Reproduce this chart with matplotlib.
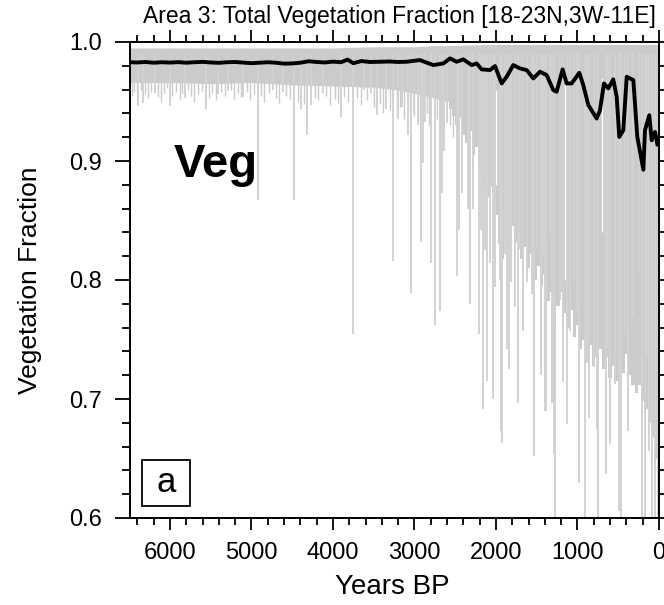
import matplotlib
matplotlib.use('Agg')
import matplotlib.pyplot as plt
from matplotlib.ticker import MultipleLocator
from matplotlib.patches import Rectangle

plt.rcParams['font.family'] = ['Liberation Sans', 'DejaVu Sans']

# ---------------- data ----------------
smooth_years = [6490, 6400, 6300, 6200, 6100, 6000, 5900, 5800, 5700, 5600, 5500, 5400, 5300,
                5200, 5100, 5000, 4900, 4800, 4700, 4600, 4500, 4400, 4300, 4200, 4100, 4000,
                3900, 3820, 3750, 3650, 3550, 3423, 3300, 3200, 3096, 2933, 2769, 2646, 2564,
                2482, 2401, 2298, 2237, 2176, 2074, 2012, 1930, 1869, 1788, 1706, 1623, 1542,
                1460, 1378, 1297, 1256, 1182, 1133, 1072, 978, 929, 867, 765, 724, 675, 622,
                561, 519, 487, 438, 396, 315, 266, 192, 172, 119, 90, 49, 20]
smooth_vals = [.9830, .9828, .9832, .9826, .9830, .9827, .9831, .9826, .9830, .9833, .9828,
               .9825, .9830, .9832, .9827, .9822, .9826, .9830, .9826, .9818, .9820, .9826,
               .9838, .9832, .9828, .9835, .9830, .9852, .9822, .9840, .9832, .9834, .9836,
               .9832, .9834, .9848, .9806, .9820, .9862, .9834, .9854, .9806, .9820, .9770,
               .9764, .9798, .9652, .9708, .9806, .9778, .9764, .9694, .9750, .9722, .9596,
               .9582, .9770, .9652, .9652, .9741, .9638, .9470, .9357, .9427, .9652, .9610,
               .9686, .9539, .9202, .9259, .9708, .9680, .9202, .8927, .9259, .9385, .9174,
               .9244, .9140]

band_years = [6490, 6000, 5500, 5000, 4500, 4000, 3500, 3250, 3000, 2750, 2600, 2000, 0]
band_top = [.995, .995, .995, .995, .995, .995, .996, .996, .996, .997, .997, .998, .998]
band_bottom = [.966, .966, .965, .966, .964, .963, .962, .960, .957, .953, .950, .95, .95]

dense_years = [2600, 2560, 2520, 2480, 2440, 2400, 2360, 2320, 2280, 2240, 2200, 2160, 2120,
               2080, 2040, 2000, 1960, 1920, 1880, 1840, 1800, 1760, 1720, 1680, 1640, 1600,
               1560, 1520, 1480, 1440, 1400, 1360, 1320, 1280, 1240, 1200, 1160, 1120, 1080,
               1040, 1000, 960, 920, 880, 840, 800, 760, 720, 680, 640, 600, 560, 520, 480,
               440, 400, 360, 320, 280, 240, 200, 160, 120, 80, 40, 0]
dense_bottom = [.950, .944, .938, .930, .936, .922, .915, .925, .905, .912, .895, .880, .892,
                .870, .878, .855, .830, .818, .838, .826, .845, .832, .840, .818, .828, .810,
                .822, .800, .812, .795, .805, .782, .790, .765, .778, .790, .772, .760, .775,
                .752, .762, .742, .750, .735, .745, .728, .735, .742, .725, .735, .718, .728,
                .715, .730, .722, .738, .720, .712, .705, .712, .698, .692, .680, .668, .650,
                .630]

shallow_years = [6470, 6440, 6410, 6360, 6300, 6270, 6230, 6150, 6110, 6070,
                 6040, 5970, 5930, 5880, 5850, 5780, 5740, 5700, 5650, 5610,
                 5520, 5480, 5440, 5370, 5330, 5250, 5210, 5170, 5130, 5060,
                 5020, 4970, 4880, 4840, 4790, 4700, 4660, 4570, 4530, 4430,
                 4350, 4220, 4180, 4080, 4040, 3980, 3940, 3860, 3820, 3700,
                 3660, 3580, 3500, 3420, 3380, 3300, 3220, 3180, 3130, 3050,
                 3000, 2960, 2850, 2820, 2720, 2680, 2560, 2530]
shallow_bottom = [.955, .958, .952, .960, .956, .953, .958, .954, .950, .957,
                  .961, .955, .958, .952, .957, .960, .955, .950, .956, .959,
                  .953, .957, .951, .958, .955, .960, .952, .957, .954, .958,
                  .951, .956, .955, .950, .957, .953, .949, .955, .952, .950,
                  .948, .953, .951, .955, .947, .952, .949, .954, .950, .953,
                  .947, .951, .945, .948, .940, .943, .938, .945, .935, .942,
                  .938, .932, .940, .930, .935, .925, .930, .920]

spike_years = [6393, 6331, 6188, 6004, 5820, 5554, 5411, 5288, 5104, 4920, 4736, 4614, 4479,
               4389, 4315, 4266, 4123, 3906, 3755, 3620, 3530, 3457, 3346, 3268, 3200, 3150,
               3080, 3039, 3000, 2960, 2924, 2896, 2867, 2794, 2752, 2691, 2663, 2638, 2597,
               2475, 2454, 2417, 2344, 2319, 2282, 2213, 2180, 2163, 2139, 2107, 2078, 2037,
               2009, 1955, 1935, 1923, 1894, 1865, 1845, 1812, 1771, 1730, 1702, 1665, 1623,
               1562, 1534, 1500, 1452, 1419, 1399, 1387, 1337, 1317, 1284, 1276, 1215, 1182,
               1133, 1092, 1043, 1010, 978, 908, 887, 863, 798, 765, 745, 650, 622, 601, 540,
               487, 470, 417, 376, 315, 245, 212, 172, 151, 119, 90, 50, 15]
spike_bottom = [.946, .949, .957, .946, .953, .944, .956, .959, .954, .867, .960, .958, .867,
                .944, .922, .947, .957, .937, .755, .960, .957, .939, .944, .816, .935, .945,
                .922, .789, .940, .930, .832, .898, .933, .814, .762, .774, .873, .908, .932,
                .803, .842, .873, .860, .780, .860, .755, .842, .692, .825, .715, .814, .700,
                .794, .800, .673, .663, .822, .742, .725, .798, .777, .697, .826, .757, .798,
                .788, .652, .828, .720, .819, .690, .690, .839, .697, .654, .550, .783, .714,
                .679, .757, .798, .774, .629, .550, .730, .684, .727, .675, .550, .637, .743,
                .662, .713, .606, .550, .755, .673, .769, .808, .550, .550, .735, .656, .550,
                .550, .550]

# white gaps inside the dense grey region
gap_years = [2000, 1560, 1153, 703]
gap_top = [.960, .950, .975, .970]
gap_bottom = [.880, .850, .800, .840]

x_ticks = [6000, 5000, 4000, 3000, 2000, 1000, 0]
y_ticks = [0.6, 0.7, 0.8, 0.9, 1.0]

# ---------------- figure ----------------
W, H = 664, 605
fig = plt.figure(figsize=(W / 100, H / 100), dpi=100)
ax = fig.add_axes([130 / W, 1 - 518 / H, 529 / W, 476 / H])

GRAY = '#cbcbcb'
ax.fill_between(band_years, band_bottom, band_top, color=GRAY, lw=0)
ax.fill_between(dense_years, dense_bottom, 0.996, step='mid', color=GRAY, lw=0)
ax.vlines(shallow_years, shallow_bottom, 0.99, color=GRAY, lw=1.0)
ax.vlines(gap_years, gap_bottom, gap_top, color='white', lw=1.0)
ax.vlines(spike_years, spike_bottom, 0.99, color='#d2d2d2', lw=1.4)
ax.plot(smooth_years, smooth_vals, color='black', lw=2.8, solid_joinstyle='round')

ax.set_xlim(6490, 0)
ax.set_ylim(0.6, 1.0)
ax.set_xticks(x_ticks)
ax.set_xticklabels([str(v) for v in x_ticks])
ax.set_yticks(y_ticks)
ax.set_yticklabels(['%.1f' % v for v in y_ticks])
ax.xaxis.set_minor_locator(MultipleLocator(200))
ax.yaxis.set_minor_locator(MultipleLocator(0.02))

for s in ax.spines.values():
    s.set_linewidth(1.4)

ax.tick_params(axis='both', which='both', direction='out', top=True, right=True,
               width=1.3, labelsize=17, colors='black')
ax.tick_params(axis='x', which='major', length=8.6, pad=8.5)
ax.tick_params(axis='x', which='minor', length=5)
ax.tick_params(axis='y', which='major', length=10.5, pad=10)
ax.tick_params(axis='y', which='minor', length=5.5)

fig.text(399 / W, 1 - 17 / H, 'Area 3: Total Vegetation Fraction [18-23N,3W-11E]',
         ha='center', va='center', fontsize=16.5)
fig.text(392 / W, 1 - 587 / H, 'Years BP', ha='center', va='center', fontsize=20)
fig.text(30 / W, 1 - 280 / H, 'Vegetation Fraction', ha='center', va='center',
         rotation=90, fontsize=19)
fig.text(174 / W, 1 - 177 / H, 'Veg', ha='left', va='baseline', fontsize=34,
         fontweight='bold')

ax.add_patch(Rectangle((11.7 / 529, 12.3 / 476), 48.3 / 529, 45.7 / 476,
                       transform=ax.transAxes, fill=True, fc='white', ec='black',
                       lw=1.3, zorder=5))
ax.text(36 / 529, 35 / 476, 'a', transform=ax.transAxes, ha='center', va='center',
        fontsize=25, zorder=6)

fig.savefig('out.png', dpi=100)
